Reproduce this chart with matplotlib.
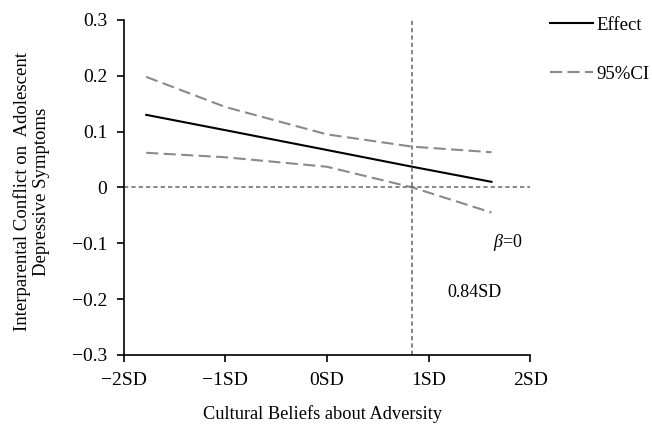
import matplotlib.pyplot as plt
import numpy as np

plt.rcParams['font.family'] = ['Liberation Serif', 'DejaVu Serif']
plt.rcParams['mathtext.fontset'] = 'custom'
plt.rcParams['mathtext.it'] = 'Liberation Serif:italic'
plt.rcParams['mathtext.rm'] = 'Liberation Serif'

x_pts = [-1.78, -1.0, 0.0, 0.84, 1.62]
effect = [0.13, 0.1025, 0.067, 0.037, 0.01]
ci_upper = [0.198, 0.144, 0.095, 0.073, 0.063]
ci_lower = [0.062, 0.054, 0.037, 0.0, -0.045]

jn_point = 0.84
xticks = [-2, -1, 0, 1, 2]
xtick_labels = ['\u22122SD', '\u22121SD', '0SD', '1SD', '2SD']
yticks = [-0.3, -0.2, -0.1, 0, 0.1, 0.2, 0.3]
ytick_labels = ['\u22120.3', '\u22120.2', '\u22120.1', '0', '0.1', '0.2', '0.3']

fig = plt.figure(figsize=(6.52, 4.24), dpi=100)
ax = fig.add_axes([0.190, 0.163, 0.623, 0.790])

ax.plot(x_pts, effect, color='black', lw=1.5, label='Effect')
ax.plot(x_pts, ci_upper, color='#8a8a8a', lw=1.5, dashes=(5.8, 2.6), label='95%CI')
ax.plot(x_pts, ci_lower, color='#8a8a8a', lw=1.5, dashes=(5.8, 2.6))

ax.axhline(0, color='#666666', lw=1.1, dashes=(2.8, 2.0))
ax.axvline(jn_point, color='#666666', lw=1.1, dashes=(2.8, 2.0))

ax.text(1.635, -0.099, r'$\beta$=0', fontsize=13, va='center', ha='left')
ax.text(1.19, -0.188, '0.84SD', fontsize=13, va='center', ha='left')

ax.set_xlim(-2, 2)
ax.set_ylim(-0.3, 0.3)
ax.set_xticks(xticks)
ax.set_xticklabels(xtick_labels)
ax.set_yticks(yticks)
ax.set_yticklabels(ytick_labels)
ax.tick_params(labelsize=14, direction='out', length=5, width=1.2)
ax.tick_params(axis='y', pad=7)
ax.tick_params(axis='x', pad=7)
for s in ['top', 'right']:
    ax.spines[s].set_visible(False)
for s in ['left', 'bottom']:
    ax.spines[s].set_linewidth(1.2)

ax.set_xlabel('Cultural Beliefs about Adversity', fontsize=13.2, va='center')
ax.xaxis.set_label_coords(0.49, -0.177)
ax.set_ylabel('Interparental Conflict on  Adolescent\nDepressive Symptoms',
              fontsize=13.5, linespacing=1.1, va='center')
ax.yaxis.set_label_coords(-0.227, 0.488)

ax.legend(loc='upper left', bbox_to_anchor=(1.007, 1.06), frameon=False,
          fontsize=13.5, handlelength=2.3, handletextpad=0.2, labelspacing=1.7)

fig.savefig('out.png', dpi=100)
